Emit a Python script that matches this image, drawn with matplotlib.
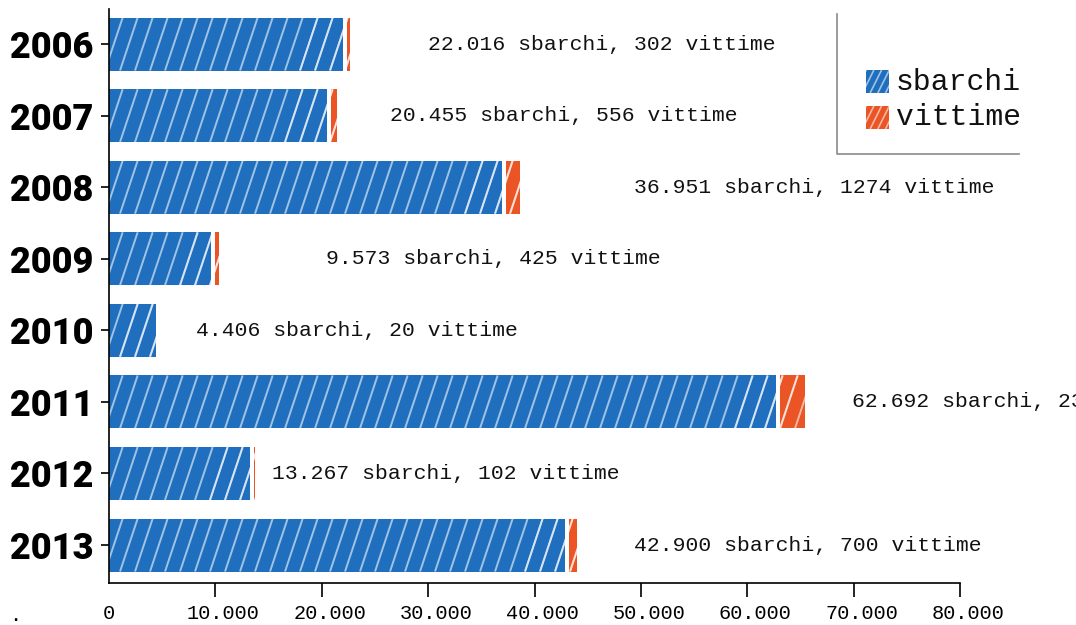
import matplotlib

matplotlib.use("Agg")
import matplotlib.pyplot as plt
from matplotlib.collections import LineCollection
from matplotlib.patches import Rectangle
from matplotlib.transforms import IdentityTransform, ScaledTranslation, blended_transform_factory

# dati: sbarchi e vittime per anno (Canale di Sicilia)
years = ["2006", "2007", "2008", "2009", "2010", "2011", "2012", "2013"]
sbarchi = [22016, 20455, 36951, 9573, 4406, 62692, 13267, 42900]
vittime = [302, 556, 1274, 425, 20, 2352, 102, 700]
# dove comincia l'etichetta di ogni barra (unità dell'asse x)
label_x = [30000, 26400, 49350, 20400, 8180, 69850, 15320, 49350]

BLUE = "#1f6fbe"
ORANGE = "#eb5424"
MONO = "Liberation Mono"
W, H = 1076, 625


def hatch(ax, patch, step=15.0, rise=3.0, lw=1.4, alpha=0.58):
    """Diagonal white lines clipped to the patch, drawn in pixel space."""
    bb = patch.get_window_extent()
    dx = bb.height / rise
    x = (int((bb.x0 - dx) // step) - 1) * step
    segs = []
    while x < bb.x1 + step:
        segs.append([(x, bb.y0), (x + dx, bb.y1)])
        x += step
    lc = LineCollection(segs, colors="white", alpha=alpha, linewidths=lw,
                        transform=IdentityTransform())
    lc.set_clip_path(patch)
    ax.add_artist(lc)


fig = plt.figure(figsize=(W / 100, H / 100), dpi=100)
ax = fig.add_axes([109 / W, (H - 583) / H, 851 / W, 574 / H])
ax.set_xlim(0, 80000)
ax.set_ylim(7.53, -0.49)

pos = list(range(len(years)))
blue_bars = ax.barh(pos, sbarchi, height=0.74, color=BLUE, linewidth=0)
shift = ScaledTranslation(4 / 100, 0, fig.dpi_scale_trans)
red_bars = ax.barh(pos, vittime, left=sbarchi, height=0.74, color=ORANGE, linewidth=0)
for p in red_bars:
    p.set_transform(ax.transData + shift)
for p in list(blue_bars) + list(red_bars):
    hatch(ax, p)

for i, (s, v) in enumerate(zip(sbarchi, vittime)):
    txt = f"{s:,}".replace(",", ".") + f" sbarchi, {v} vittime"
    ax.text(label_x[i], i, txt, va="center", ha="left", family=MONO,
            fontsize=15.4, color="#111111", clip_on=False)

# etichette degli anni allineate a sinistra sul bordo della figura
ytrans = blended_transform_factory(fig.transFigure, ax.transData)
for i, y in enumerate(years):
    ax.text(10 / W, i, y, transform=ytrans, ha="left", va="center_baseline",
            fontsize=26, fontweight="black", family=["Roboto", "DejaVu Sans"],
            color="black", clip_on=False)

ax.set_yticks(pos)
ax.set_yticklabels([])
ax.tick_params(axis="y", length=6, width=1.2, color="black")

ax.set_xticks(range(0, 80001, 10000))
ax.set_xticklabels([f"{t:,}".replace(",", ".") for t in range(0, 80001, 10000)],
                   family=MONO, fontsize=14.6)
ax.tick_params(axis="x", length=10, width=1.2, pad=5, color="black")
ax.xaxis.get_major_ticks()[0].tick1line.set_visible(False)
lbl_shift = ScaledTranslation(8 / 100, 0, fig.dpi_scale_trans)
for lbl in ax.get_xticklabels()[1:]:
    lbl.set_transform(lbl.get_transform() + lbl_shift)

for side in ("top", "right"):
    ax.spines[side].set_visible(False)
for side in ("left", "bottom"):
    ax.spines[side].set_linewidth(1.2)
    ax.spines[side].set_color("black")

# legenda disegnata a mano (in pixel)
px = IdentityTransform()
fig.add_artist(plt.Line2D([837, 837, 1019], [H - 14, H - 154, H - 154],
                          transform=px, color="#8a8a8a", linewidth=1.2))
for label, col, top in (("sbarchi", BLUE, 70), ("vittime", ORANGE, 106)):
    r = Rectangle((866, H - top - 23), 23, 23, transform=px, color=col, linewidth=0)
    fig.add_artist(r)
    hatch(fig, r, step=7.7, rise=2.0, lw=1.2)
    fig.text(896 / W, 1 - (top + 11.5) / H, label, family=MONO, fontsize=21.4,
             va="center", ha="left", color="#111111")

fig.text(10 / W, 4 / H, ".", family=MONO, fontsize=12, fontweight="bold", color="black")

fig.savefig("out.png", dpi=100)
